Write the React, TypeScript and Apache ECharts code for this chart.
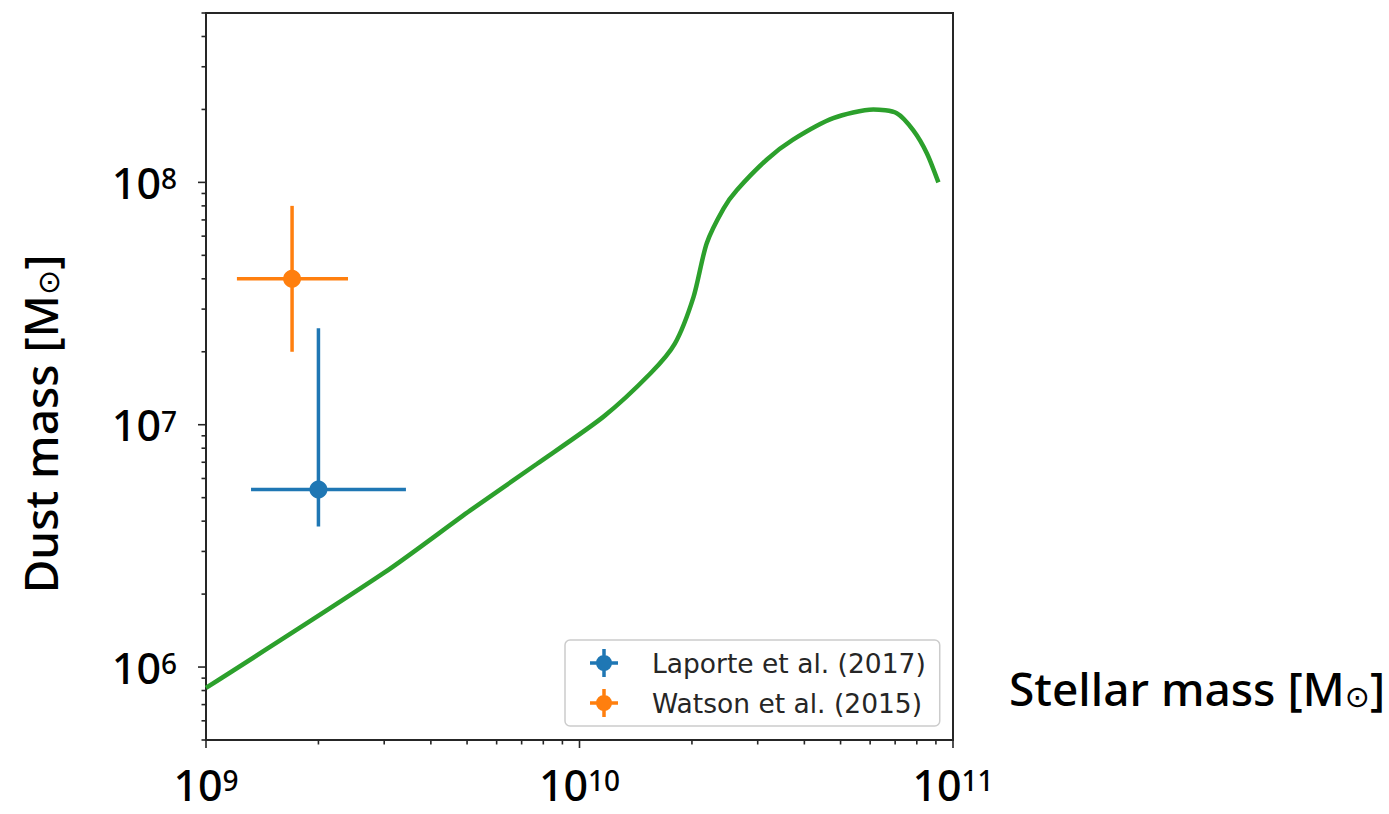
import React, { useEffect, useRef } from 'react';
import * as echarts from 'echarts';

// ---- Data ----
const modelStellarMass = [1e9, 3e9, 5.1e9, 7.7e9, 1.16e10, 1.55e10, 1.8e10, 2.02e10, 2.19e10, 2.43e10, 2.64e10, 3.17e10, 3.73e10, 4.78e10, 6.12e10, 7.07e10, 7.83e10, 8.51e10, 9.14e10];
const modelDustMass = [8.2e5, 2.45e6, 4.43e6, 6.9e6, 1.08e7, 1.63e7, 2.16e7, 3.37e7, 5.6e7, 7.8e7, 9.3e7, 1.24e8, 1.5e8, 1.84e8, 2.0e8, 1.93e8, 1.64e8, 1.32e8, 1.0e8];

const obsNames = ['Laporte et al. (2017)', 'Watson et al. (2015)'];
const obsColors = ['#1f77b4', '#ff7f0e'];
const obsStellar = [2.0e9, 1.7e9];
const obsStellarLo = [1.32e9, 1.21e9];
const obsStellarHi = [3.43e9, 2.4e9];
const obsDust = [5.4e6, 4.0e7];
const obsDustLo = [3.8e6, 2.0e7];
const obsDustHi = [2.5e7, 8.0e7];

const X_MIN = 1e9;
const X_MAX = 1e11;
const Y_MIN = 5e5;
const Y_MAX = 5e8;

const xMajorTicks = [1e9, 1e10, 1e11];
const xMinorTicks = [2e9, 3e9, 4e9, 5e9, 6e9, 7e9, 8e9, 9e9, 2e10, 3e10, 4e10, 5e10, 6e10, 7e10, 8e10, 9e10];
const yMajorTicks = [1e6, 1e7, 1e8];
const yMinorTicks = [5e5, 6e5, 7e5, 8e5, 9e5, 2e6, 3e6, 4e6, 5e6, 6e6, 7e6, 8e6, 9e6, 2e7, 3e7, 4e7, 5e7, 6e7, 7e7, 8e7, 9e7, 2e8, 3e8, 4e8, 5e8];

const FRAME = '#262626';
const LABEL_FONT = 'Noto Sans';

const crossIcon =
  'path://M0,12.25 H28 V15.75 H0 Z M12.25,0 H15.75 V28 H12.25 Z M22,14 A8,8 0 1,1 6,14 A8,8 0 1,1 22,14 Z';

function powLabel(v: number) {
  const e = Math.round(Math.log10(v));
  if (Math.abs(v / Math.pow(10, e) - 1) > 1e-6) return '';
  return `{b|10}{s|${e}}`;
}

const labelRich = {
  b: { fontSize: 43, fontFamily: LABEL_FONT, fontWeight: 500, color: '#000', lineHeight: 36 },
  s: { fontSize: 28, fontFamily: LABEL_FONT, fontWeight: 500, color: '#000', lineHeight: 22, verticalAlign: 'top' },
};

function tickSeries(values: number[], axis: 'x' | 'y', len: number) {
  return {
    type: 'custom',
    silent: true,
    clip: false,
    z: 5,
    data: values.map((v) => (axis === 'x' ? [v, Y_MIN] : [X_MIN, v])),
    encode: { x: 0, y: 1 },
    renderItem: (params: any, api: any) => {
      const p = api.coord([api.value(0), api.value(1)]);
      const shape =
        axis === 'x'
          ? { x1: p[0], y1: p[1], x2: p[0], y2: p[1] + len }
          : { x1: p[0], y1: p[1], x2: p[0] - len, y2: p[1] };
      return { type: 'line', shape, style: { stroke: FRAME, lineWidth: 1.6 } };
    },
  };
}

export default function App() {
  const ref = useRef<HTMLDivElement>(null);
  useEffect(() => {
    if (!ref.current) return;
    const chart = echarts.init(ref.current, undefined, { renderer: 'svg' });

    const errorSeries = obsNames.map((name, i) => ({
      type: 'custom',
      name,
      z: 10,
      itemStyle: { color: obsColors[i] },
      data: [[obsStellar[i], obsDust[i], obsStellarLo[i], obsStellarHi[i], obsDustLo[i], obsDustHi[i]]],
      encode: { x: 0, y: 1 },
      renderItem: (params: any, api: any) => {
        const x = api.value(0);
        const y = api.value(1);
        const c = api.coord([x, y]);
        const l = api.coord([api.value(2), y]);
        const r = api.coord([api.value(3), y]);
        const b = api.coord([x, api.value(4)]);
        const t = api.coord([x, api.value(5)]);
        const color = api.visual('color');
        return {
          type: 'group',
          children: [
            { type: 'line', shape: { x1: l[0], y1: c[1], x2: r[0], y2: c[1] }, style: { stroke: color, lineWidth: 3.5 } },
            { type: 'line', shape: { x1: c[0], y1: b[1], x2: c[0], y2: t[1] }, style: { stroke: color, lineWidth: 3.5 } },
            { type: 'circle', shape: { cx: c[0], cy: c[1], r: 9 }, style: { fill: color } },
          ],
        };
      },
    }));

    const nameRich = { o: { fontSize: 30, fontFamily: 'DejaVu Sans', fill: '#000', verticalAlign: 'bottom' } };

    chart.setOption({
      animation: false,
      backgroundColor: '#ffffff',
      grid: {
        left: 206,
        top: 13,
        right: 1389 - 953,
        bottom: 814 - 740,
        show: true,
        borderColor: FRAME,
        borderWidth: 2,
        backgroundColor: 'transparent',
      },
      xAxis: {
        type: 'log',
        logBase: 10,
        min: X_MIN,
        max: X_MAX,
        axisLine: { show: false },
        axisTick: { show: false },
        splitLine: { show: false },
        axisLabel: { formatter: powLabel, margin: 26, rich: labelRich, hideOverlap: false },
      },
      yAxis: {
        type: 'log',
        logBase: 10,
        min: Y_MIN,
        max: Y_MAX,
        axisLine: { show: false },
        axisTick: { show: false },
        splitLine: { show: false },
        axisLabel: { formatter: powLabel, margin: 29, rich: labelRich, hideOverlap: false },
      },
      legend: {
        data: obsNames.map((n) => ({ name: n, icon: crossIcon })),
        orient: 'vertical',
        left: 565,
        top: 640,
        itemWidth: 28,
        itemHeight: 28,
        itemGap: 12,
        padding: [9, 14, 9, 25],
        backgroundColor: '#ffffff',
        borderColor: '#cccccc',
        borderWidth: 1.5,
        borderRadius: 5,
        selectedMode: false,
        textStyle: { fontFamily: 'DejaVu Sans', fontSize: 26.5, color: '#262626', padding: [0, 0, 0, 29] },
      },
      graphic: [
        {
          type: 'text',
          x: 40,
          y: 424,
          rotation: Math.PI / 2,
          style: {
            text: 'Dust mass [M{o|⊙}]',
            fontFamily: LABEL_FONT,
            fontWeight: 500,
            fontSize: 46,
            fill: '#000',
            align: 'center',
            verticalAlign: 'middle',
            rich: nameRich,
          },
        },
        {
          type: 'text',
          x: 1009,
          y: 688,
          style: {
            text: 'Stellar mass [M{o|⊙}]',
            fontFamily: LABEL_FONT,
            fontWeight: 500,
            fontSize: 46,
            fill: '#000',
            align: 'left',
            verticalAlign: 'middle',
            rich: nameRich,
          },
        },
      ],
      series: [
        {
          type: 'line',
          name: 'model',
          data: modelStellarMass.map((x, i) => [x, modelDustMass[i]]),
          showSymbol: false,
          smooth: 0.25,
          z: 3,
          lineStyle: { color: '#2ca02c', width: 4.5 },
          itemStyle: { color: '#2ca02c' },
        },
        ...errorSeries,
        tickSeries(xMajorTicks, 'x', 8),
        tickSeries(xMinorTicks, 'x', 4.5),
        tickSeries(yMajorTicks, 'y', 8),
        tickSeries(yMinorTicks, 'y', 4.5),
      ],
    });
    return () => chart.dispose();
  }, []);
  return (
    <div
      ref={ref}
      style={{ position: 'fixed', left: 0, top: 0, width: 1389, height: 814, background: '#fff' }}
    />
  );
}
